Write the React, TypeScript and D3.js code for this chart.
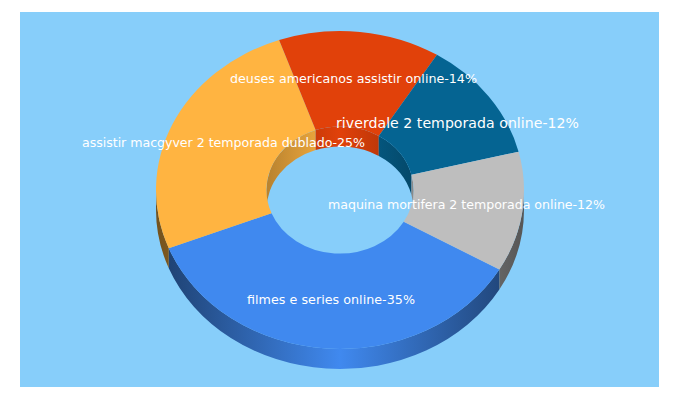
import React from "react";
import * as d3 from "d3";

const categories = [
  "filmes e series online",
  "assistir macgyver 2 temporada dublado",
  "deuses americanos assistir online",
  "riverdale 2 temporada online",
  "maquina mortifera 2 temporada online",
];
const shownPercent = [35, 25, 14, 12, 12];
const values = [35.7, 25.6, 14.2, 12.3, 12.2];
const colors = ["#4089ef", "#ffb441", "#e1410a", "#056492", "#bebebe"];
const labelCentersX = [331, 223.5, 353.5, 457.5, 466.5];
const labelBaselinesY = [304, 147, 83, 128, 209];
const labelFontSizes = [12.7, 12.6, 12.7, 14.1, 12.6];
const labelWidths = [168, 283, 247, 243, 277];

const W = 680;
const H = 400;
const cx = 340;
const cy = 190;
const rx = 184;
const ry = 159;
const depth = 20;
const hole = 0.4;
const start = (120 * Math.PI) / 180;

const px = (a: number, k: number) => cx + k * rx * Math.sin(a);
const py = (a: number, k: number, dy = 0) => cy - k * ry * Math.cos(a) + dy;

function band(a0: number, a1: number, k: number) {
  const large = a1 - a0 > Math.PI ? 1 : 0;
  const r1 = k * rx;
  const r2 = k * ry;
  return (
    `M${px(a0, k)},${py(a0, k)}` +
    `A${r1},${r2} 0 ${large} 1 ${px(a1, k)},${py(a1, k)}` +
    `L${px(a1, k)},${py(a1, k, depth)}` +
    `A${r1},${r2} 0 ${large} 0 ${px(a0, k)},${py(a0, k, depth)}Z`
  );
}

function face(a0: number, a1: number) {
  const large = a1 - a0 > Math.PI ? 1 : 0;
  const ix = hole * rx;
  const iy = hole * ry;
  return (
    `M${px(a0, 1)},${py(a0, 1)}` +
    `A${rx},${ry} 0 ${large} 1 ${px(a1, 1)},${py(a1, 1)}` +
    `L${px(a1, hole)},${py(a1, hole)}` +
    `A${ix},${iy} 0 ${large} 0 ${px(a0, hole)},${py(a0, hole)}Z`
  );
}

function clipRange(a0: number, a1: number, lo: number, hi: number) {
  const out: [number, number][] = [];
  for (const t of [0, 2 * Math.PI, -2 * Math.PI]) {
    const s = Math.max(a0 + t, lo);
    const e = Math.min(a1 + t, hi);
    if (e > s) out.push([s, e]);
  }
  return out;
}

export default function App() {
  const arcs = d3
    .pie<number>()
    .sort(null)
    .startAngle(start)
    .endAngle(start + 2 * Math.PI)(values);

  const shade = (c: string, f: number) => d3.interpolateRgb("#000", c)(f);

  return (
    <svg
      width={W}
      height={H}
      style={{ position: "absolute", left: 0, top: 0 }}
      fontFamily="'DejaVu Sans'"
    >
      <defs>
        {colors.map((c, i) => (
          <linearGradient
            key={i}
            id={`outer${i}`}
            gradientUnits="userSpaceOnUse"
            x1={cx - rx}
            x2={cx + rx}
            y1={0}
            y2={0}
          >
            <stop offset="0" stopColor={shade(c, 0.45)} />
            <stop offset="0.5" stopColor={c} />
            <stop offset="1" stopColor={shade(c, 0.45)} />
          </linearGradient>
        ))}
        {colors.map((c, i) => (
          <linearGradient
            key={i}
            id={`inner${i}`}
            gradientUnits="userSpaceOnUse"
            x1={cx - rx * hole}
            x2={cx + rx * hole}
            y1={0}
            y2={0}
          >
            <stop offset="0" stopColor={shade(c, 0.72)} />
            <stop offset="0.5" stopColor={c} />
            <stop offset="1" stopColor={shade(c, 0.72)} />
          </linearGradient>
        ))}
      </defs>
      <rect x={20} y={12} width={639} height={375} fill="#87cefa" />
      {arcs.map((d, i) =>
        clipRange(d.startAngle, d.endAngle, Math.PI / 2, (3 * Math.PI) / 2).map(([s, e], j) => (
          <path key={`o${i}-${j}`} d={band(s, e, 1)} fill={`url(#outer${i})`} />
        ))
      )}
      {arcs.map((d, i) =>
        clipRange(d.startAngle, d.endAngle, -Math.PI / 2, Math.PI / 2).map(([s, e], j) => (
          <path key={`i${i}-${j}`} d={band(s, e, hole)} fill={`url(#inner${i})`} />
        ))
      )}
      {arcs.map((d, i) => (
        <path key={`f${i}`} d={face(d.startAngle, d.endAngle)} fill={colors[i]} />
      ))}
      {categories.map((c, i) => (
        <text
          key={c}
          x={labelCentersX[i]}
          y={labelBaselinesY[i]}
          textAnchor="middle"
          fontSize={labelFontSizes[i]}
          fill="#fff"
          textLength={labelWidths[i]}
        >
          {`${c}-${shownPercent[i]}%`}
        </text>
      ))}
    </svg>
  );
}
